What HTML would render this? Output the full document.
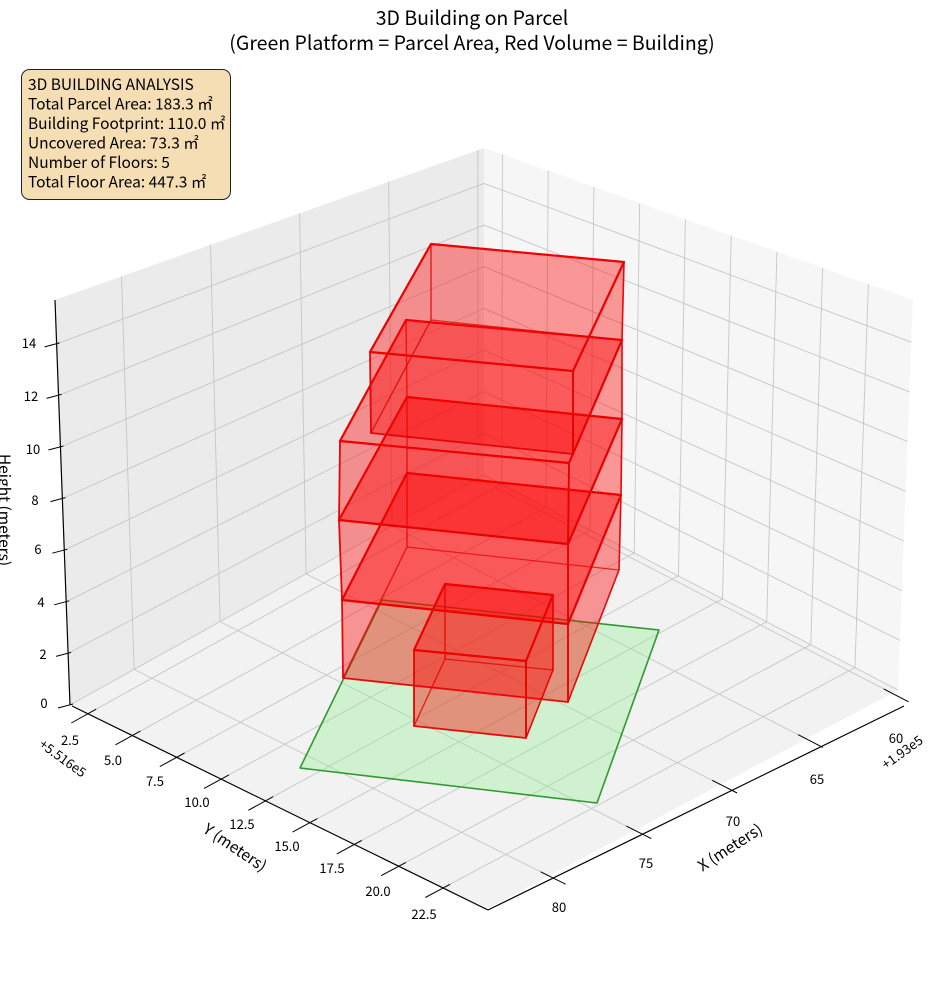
<!DOCTYPE html>
<html><head><meta charset="utf-8">
<style>
html,body{margin:0;padding:0;background:#fff;}
body{width:944px;height:992px;overflow:hidden;position:relative;font-family:"Noto Sans CJK JP","Liberation Sans",sans-serif;}
svg{position:absolute;left:0;top:0;}
text{font-family:"Noto Sans CJK JP","Liberation Sans",sans-serif;fill:#000;}
</style></head>
<body>
<svg id="s" width="944" height="992" viewBox="0 0 944 992" xmlns="http://www.w3.org/2000/svg">
<g id="g"></g>
<text x="472" y="25" font-size="19.5" text-anchor="middle">3D Building on Parcel</text>
<text x="472" y="50" font-size="19.5" text-anchor="middle">(Green Platform = Parcel Area, Red Volume = Building)</text>
<rect x="21.5" y="69.5" width="209" height="130" rx="8" fill="#f5deb3" stroke="#222" stroke-width="1"/>
<g font-size="15.5">
<text x="28" y="90">3D BUILDING ANALYSIS</text>
<text x="28" y="109.5">Total Parcel Area: 183.3 ㎡</text>
<text x="28" y="129">Building Footprint: 110.0 ㎡</text>
<text x="28" y="148.5">Uncovered Area: 73.3 ㎡</text>
<text x="28" y="168">Number of Floors: 5</text>
<text x="28" y="187.5">Total Floor Area: 447.3 ㎡</text>
</g>
<g font-size="13" text-anchor="middle">
<text x="44" y="708">0</text><text x="43" y="659">2</text><text x="41" y="607">4</text><text x="38" y="554">6</text>
<text x="35" y="505">8</text><text x="33" y="454">10</text><text x="31" y="401">12</text><text x="29" y="348">14</text>
<text x="70" y="745">2.5</text><text x="113" y="765">5.0</text><text x="155" y="786">7.5</text><text x="197" y="807">10.0</text>
<text x="242" y="829">12.5</text><text x="287" y="851">15.0</text><text x="332" y="873">17.5</text><text x="378" y="896">20.0</text><text x="424" y="919">22.5</text>
<text x="896" y="743">60</text><text x="817" y="784">65</text><text x="733" y="826">70</text><text x="646" y="868">75</text><text x="559" y="912">80</text>
</g>
<text font-size="13" transform="translate(60,762) rotate(36)" text-anchor="middle">+5.516e5</text>
<text font-size="13" transform="translate(905,756) rotate(-36)" text-anchor="middle">+1.93e5</text>
<text font-size="15.5" transform="translate(232,852) rotate(34)" text-anchor="middle">Y (meters)</text>
<text font-size="15.5" transform="translate(733,852) rotate(-33)" text-anchor="middle">X (meters)</text>
<text font-size="15.5" transform="translate(-1,510) rotate(90)" text-anchor="middle">Height (meters)</text>
</svg>
<script>
(function(){
var B=[484,475],L=[70,705],R=[898,690],Fr=[485,910];
var uB=[0,-327],uL=[-15,-405],uR=[15,-390],uF=[0,-468];
function bl(a,b,c,d,s,t,i){return a[i]*(1-s)*(1-t)+b[i]*(1-s)*t+c[i]*s*(1-t)+d[i]*s*t;}
function P(s,t,z){var h=z/15.7;return [bl(B,L,R,Fr,s,t,0)+h*bl(uB,uL,uR,uF,s,t,0),bl(B,L,R,Fr,s,t,1)+h*bl(uB,uL,uR,uF,s,t,1)];}
function sY(Y){return 0.043+(Y-2.5)*0.04265;}
function tX(X){return 0.0145+(X-60)*0.04153;}
var o=[];
function poly(pts,fill,stroke,sw){o.push('<polygon points="'+pts.map(function(p){return p[0].toFixed(1)+','+p[1].toFixed(1)}).join(' ')+'" fill="'+fill+'" stroke="'+stroke+'" stroke-width="'+sw+'" stroke-linejoin="round"/>');}
function line(a,b,c,w){o.push('<line x1="'+a[0].toFixed(1)+'" y1="'+a[1].toFixed(1)+'" x2="'+b[0].toFixed(1)+'" y2="'+b[1].toFixed(1)+'" stroke="'+c+'" stroke-width="'+w+'"/>');}
var Z=15.7;
poly([P(0,0,0),P(0,1,0),P(0,1,Z),P(0,0,Z)],'#ebebeb','none',0);
poly([P(0,0,0),P(1,0,0),P(1,0,Z),P(0,0,Z)],'#f6f6f6','none',0);
poly([P(0,0,0),P(0,1,0),P(1,1,0),P(1,0,0)],'#f2f2f2','none',0);
var gc='#c6c6c6',gw=0.9,X,Y,z;
for(X=60;X<=80;X+=5){var t=tX(X);line(P(0,t,0),P(0,t,Z),gc,gw);line(P(0,t,0),P(1,t,0),gc,gw);}
for(Y=2.5;Y<=22.6;Y+=2.5){var s=sY(Y);line(P(s,0,0),P(s,0,Z),gc,gw);line(P(s,0,0),P(s,1,0),gc,gw);}
for(z=0;z<=14;z+=2){line(P(0,0,z),P(0,1,z),gc,gw);line(P(0,0,z),P(1,0,z),gc,gw);}
line([55,300],[70,705],'#000',1.2);
line([72,706],[488,910],'#000',1.2);
line([488,910],[904,706],'#000',1.2);
for(z=0;z<=14;z+=2){var p=P(0,1,z);line([p[0]-12,p[1]+3],[p[0]+3,p[1]-1],'#000',1);}
for(Y=2.5;Y<=22.6;Y+=2.5){var a=P(sY(Y),1.04,0),b=P(sY(Y),0.98,0);line(a,b,'#000',1);}
for(X=60;X<=80;X+=5){var a=P(1.04,tX(X),0),b=P(0.98,tX(X),0);line(a,b,'#000',1);}
poly([[300,768],[382,600],[659,630],[597,803]],'rgba(144,238,144,0.36)','#2e9a2e',1.6);
var rf='rgba(255,0,0,0.22)',rs='rgba(230,0,0,0.9)';
function box(b,t){
 poly(b,rf,'rgba(210,0,0,0.45)',1.2);
 poly([b[3],b[2],t[2],t[3]],rf,'rgba(210,0,0,0.5)',1.2);
 poly([b[0],b[3],t[3],t[0]],rf,'rgba(220,0,0,0.6)',1.4);
 poly([b[1],b[2],t[2],t[1]],rf,rs,1.6);
 poly([b[0],b[1],t[1],t[0]],rf,rs,1.8);
 poly(t,rf,'#e00',2.2);
}
var A0=[[343,678],[568,702],[619,570],[407,547]];
var A1=[[342,600],[568,624],[621,495],[407,473]];
var A2=[[339,520],[568,544],[622,419],[407,397]];
var A3=[[340,441],[569,463],[622,340],[406,320]];
box(A0,A1);box(A1,A2);box(A2,A3);
box([[371,433],[573,454],[622,340],[431,320]],[[370,352],[573,371],[624,262],[431,244]]);
box([[414,726],[526,738],[553,670],[445,659]],[[414,650],[526,661],[553,595],[445,584]]);
document.getElementById('g').innerHTML=o.join('');
})();
</script>
</body></html>
